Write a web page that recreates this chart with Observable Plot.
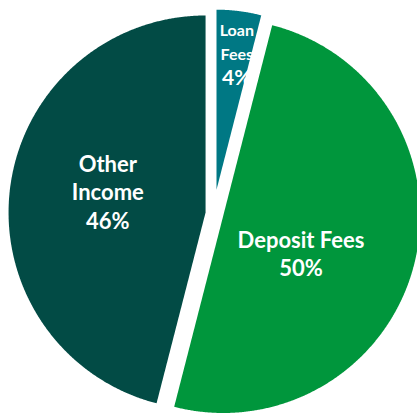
<!DOCTYPE html>
<html><head><meta charset="utf-8">
<script src="https://cdn.jsdelivr.net/npm/d3@7"></script>
<script src="https://cdn.jsdelivr.net/npm/@observablehq/plot@0.6"></script>
<style>body{margin:0;background:#fff}#chart svg{display:block}</style>
</head><body><div id="chart"></div>
<script>
// ---- data ----
const categories = ["Loan Fees", "Deposit Fees", "Other Income"];
const shares = [4, 50, 46];
const percentLabels = ["4%", "50%", "46%"];
const nameLabels = ["Loan\nFees", "Deposit Fees", "Other\nIncome"];
const colors = ["#007884", "#00963C", "#024B45"];

// ---- layout / style (not data) ----
const W = 417, H = 414, PX = 197;           // px per unit radius
const cx = 213, cy = 213;                    // base centre in px
const explode = [24 / PX, 10 / PX, 8 / PX];  // slice pull-out
const radius = [180 / PX, 1, 1];
const labelR = [0.70, 0.45, 0.50];
const labelShift = [[3, 0], [-8, 15], [0, -9]];

const arcs = d3.pie().sort(null).startAngle(0).endAngle(2 * Math.PI)(shares);

const slicePts = [];
const labelRows = [];
arcs.forEach((a, i) => {
  const mid = (a.startAngle + a.endAngle) / 2;
  const ox = explode[i] * Math.sin(mid), oy = explode[i] * Math.cos(mid);
  const r = radius[i];
  slicePts.push({name: categories[i], x: ox, y: oy});
  const n = Math.max(4, Math.ceil((a.endAngle - a.startAngle) / 0.005));
  for (let k = 0; k <= n; k++) {
    const t = a.startAngle + (a.endAngle - a.startAngle) * k / n;
    slicePts.push({name: categories[i], x: ox + r * Math.sin(t), y: oy + r * Math.cos(t)});
  }
  slicePts.push({name: categories[i], x: ox, y: oy});
  labelRows.push({
    i,
    name: nameLabels[i],
    pct: percentLabels[i],
    x: ox + labelR[i] * Math.sin(mid),
    y: oy + labelR[i] * Math.cos(mid),
    dx: labelShift[i][0],
    dy: labelShift[i][1]
  });
});

const font = "Lato, 'Open Sans', sans-serif";
const main = labelRows.filter(d => d.i > 0);
const loan = labelRows.filter(d => d.i === 0);

const marks = [
  Plot.line(slicePts, {x: "x", y: "y", z: "name", fill: "name", stroke: null, curve: "linear"}),
  // main labels (two/three lines, same size)
  ...main.map(d => Plot.text([d], {
    x: "x", y: "y", text: dd => dd.name + "\n" + dd.pct,
    dx: d.dx, dy: d.dy, fill: "white", fontSize: 22, fontWeight: 700,
    fontFamily: font, lineHeight: 1.3
  })),
  // loan label: small name, larger percent
  Plot.text(loan, {x: "x", y: "y", text: "name", dx: loan[0].dx, dy: loan[0].dy - 12.5,
    fill: "white", fontSize: 16, fontWeight: 700, fontFamily: font, lineHeight: 1.5}),
  Plot.text(loan, {x: "x", y: "y", text: "pct", dx: loan[0].dx, dy: loan[0].dy + 25,
    fill: "white", fontSize: 21, fontWeight: 700, fontFamily: font})
];

const chart = Plot.plot({
  width: W, height: H,
  margin: 0,
  x: {domain: [-cx / PX, (W - cx) / PX], axis: null},
  y: {domain: [-(H - cy) / PX, cy / PX], axis: null},
  color: {domain: categories, range: colors},
  style: {background: "white"},
  marks
});
document.getElementById("chart").appendChild(chart);
</script>
</body></html>
